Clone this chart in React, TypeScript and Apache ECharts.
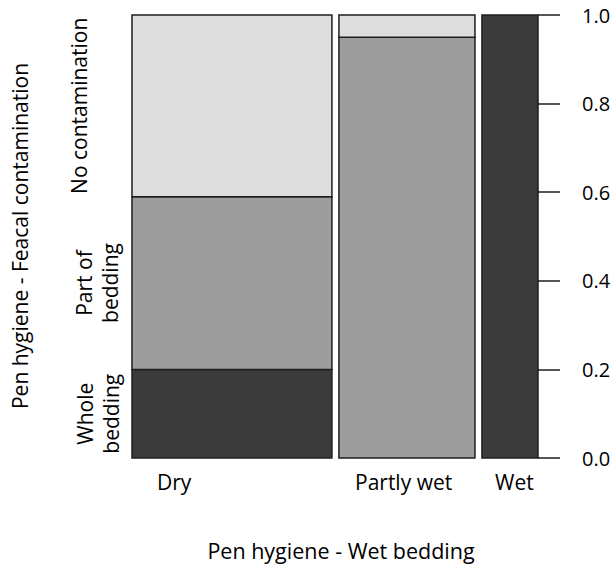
import React, { useEffect, useRef } from "react";
import * as echarts from "echarts";

const categories = ["Dry", "Partly wet", "Wet"];
const columnWidths = [0.51, 0.347, 0.143];
const levels = ["Whole\nbedding", "Part of\nbedding", "No contamination"];
const wholeBedding = [0.2, 0, 1];
const partOfBedding = [0.39, 0.95, 0];
const noContamination = [0.41, 0.05, 0];

const fills = ["#3b3b3b", "#9d9d9d", "#dedede"];
const FONT = "'Open Sans', sans-serif";

const W = 616;
const H = 571;
const GRID = { left: 132, right: 78, top: 15, bottom: 113 };
const GAP = 7 / 392;

export default function App() {
  const ref = useRef<HTMLDivElement>(null);
  useEffect(() => {
    document.body.style.margin = "0";
    const chart = echarts.init(ref.current!, null, { renderer: "svg" });
    const segs = [wholeBedding, partOfBedding, noContamination];
    const data: number[][] = [];
    let x = 0;
    categories.forEach((_, i) => {
      let y = 0;
      segs.forEach((s, l) => {
        const v = s[i];
        if (v > 0) data.push([x, x + columnWidths[i], y, y + v, l]);
        y += v;
      });
      x += columnWidths[i] + GAP;
    });
    const xMax = x - GAP;
    const plotH = H - GRID.top - GRID.bottom;
    const yPix = (v: number) => GRID.top + (1 - v) * plotH;

    let acc = 0;
    const levelCenters = segs.map((s) => {
      const c = acc + s[0] / 2;
      acc += s[0];
      return c;
    });
    const levelX = [98, 97, 79];
    const catX = [157, 355, 495];

    chart.setOption({
      animation: false,
      grid: { ...GRID },
      xAxis: { type: "value", min: 0, max: xMax, show: false },
      yAxis: {
        type: "value",
        position: "right",
        min: 0,
        max: 1,
        interval: 0.2,
        axisLine: { show: false, onZero: false },
        axisTick: { show: true, length: 22, lineStyle: { color: "#1e1e1e", width: 1.5 } },
        splitLine: { show: false },
        axisLabel: {
          margin: 44,
          fontSize: 20,
          fontFamily: FONT,
          color: "#000",
          formatter: (v: number) => v.toFixed(1),
        },
      },
      series: [
        {
          type: "custom",
          data,
          encode: { x: [0, 1], y: [2, 3] },
          renderItem: (params: any, api: any) => {
            const p0 = api.coord([api.value(0), api.value(3)]);
            const p1 = api.coord([api.value(1), api.value(2)]);
            return {
              type: "rect",
              shape: { x: p0[0], y: p0[1], width: p1[0] - p0[0], height: p1[1] - p0[1] },
              style: { fill: fills[api.value(4)], stroke: "#1e1e1e", lineWidth: 1.5 },
            };
          },
        },
      ],
      graphic: [
        ...categories.map((c, i) => ({
          type: "text",
          x: catX[i],
          y: 482,
          style: { text: c, font: `21px ${FONT}`, fill: "#000", textAlign: "left", textVerticalAlign: "middle" },
        })),
        ...levels.map((l, i) => ({
          type: "text",
          x: levelX[i],
          y: yPix(levelCenters[i]),
          rotation: Math.PI / 2,
          style: { text: l, font: `21px ${FONT}`, lineHeight: 26, fill: "#000", textAlign: "center", textVerticalAlign: "middle" },
        })),
        {
          type: "text",
          x: 20,
          y: 236,
          rotation: Math.PI / 2,
          style: { text: "Pen hygiene - Feacal contamination", font: `21px ${FONT}`, fill: "#000", textAlign: "center", textVerticalAlign: "middle" },
        },
        {
          type: "text",
          x: 341,
          y: 550,
          style: { text: "Pen hygiene - Wet bedding", font: `21.5px ${FONT}`, fill: "#000", textAlign: "center", textVerticalAlign: "middle" },
        },
      ],
    });
    return () => chart.dispose();
  }, []);
  return <div ref={ref} style={{ width: W, height: H }} />;
}
